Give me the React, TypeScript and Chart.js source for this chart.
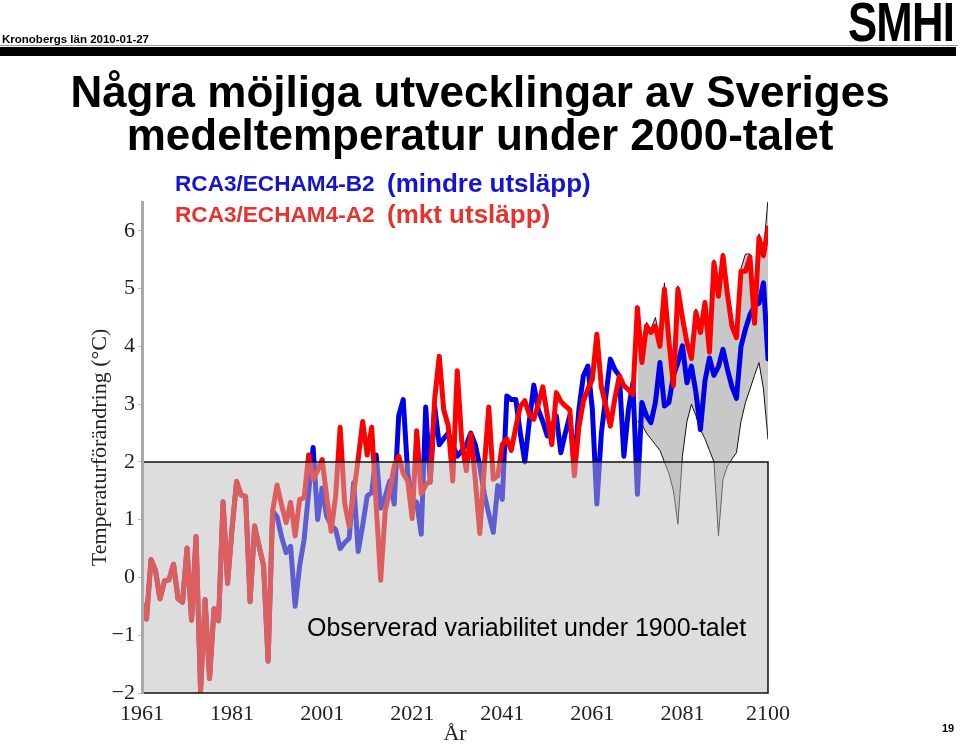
import React, { useEffect, useRef } from 'react';
import { Chart, registerables } from 'chart.js';

Chart.register(...registerables);

// ---- Data -------------------------------------------------------------
const START_YEAR = 1961;
const X_TICKS = [1961, 1981, 2001, 2021, 2041, 2061, 2081, 2100];
const Y_TICKS = [-2, -1, 0, 1, 2, 3, 4, 5, 6];

// Control period 1961-1989 (shared by both runs)
const CONTROL = [
  -0.45, -0.72, 0.31, 0.12, -0.37, -0.06, -0.04, 0.23, -0.37, -0.43,
  0.51, -0.74, 0.71, -1.97, -0.38, -1.75, -0.54, -0.75, 1.31, -0.1,
  0.85, 1.66, 1.43, 1.4, -0.42, 0.89, 0.54, 0.2, -1.45,
];

// RCA3/ECHAM4-A2, 1990-2100
const A2 = [
  1.15, 1.6, 1.25, 0.95, 1.3, 0.72, 1.35, 1.38, 2.12, 1.7,
  1.85, 2.04, 1.41, 0.8, 1.41, 2.6, 1.29, 0.88, 1.45, 2.05,
  2.7, 2.12, 2.6, 1.25, -0.05, 1.15, 1.5, 1.93, 2.1, 1.8,
  1.67, 1.02, 2.54, 1.45, 1.6, 1.68, 3.1, 3.83, 2.9, 2.63,
  1.67, 3.58, 2.36, 1.85, 2.48, 1.7, 0.76, 1.9, 2.95, 1.7,
  1.76, 2.3, 2.4, 2.2, 2.6, 2.96, 3.06, 2.82, 2.74, 3.0,
  3.3, 2.8, 2.3, 3.2, 3.05, 2.97, 2.9, 1.76, 2.6, 3.05,
  3.26, 3.43, 4.21, 3.3, 2.97, 2.62, 3.1, 3.49, 3.32, 3.25,
  3.17, 4.67, 3.72, 4.35, 4.24, 4.35, 4.0, 4.99, 4.1, 3.32,
  4.99, 4.5, 4.07, 3.79, 4.59, 4.24, 4.76, 3.9, 5.45, 4.87,
  5.57, 4.9, 4.35, 4.15, 5.3, 5.3, 5.55, 4.4, 5.88, 5.57,
  6.05,
];

// RCA3/ECHAM4-B2, 1990-2100
const B2 = [
  1.15, 1.05, 0.7, 0.43, 0.54, -0.5, 0.2, 0.66, 1.47, 2.25,
  1.0, 1.55, 1.06, 0.9, 0.83, 0.5, 0.6, 0.68, 1.64, 0.45,
  0.9, 1.41, 1.47, 2.12, 1.2, 1.4, 1.67, 1.27, 2.8, 3.08,
  1.8, 1.35, 1.3, 0.75, 2.95, 1.65, 2.95, 2.3, 2.4, 2.5,
  2.3, 2.1, 2.19, 2.3, 2.5, 2.3, 1.93, 1.45, 1.1, 0.78,
  1.59, 1.35, 3.14, 3.08, 3.08, 2.5, 2.0, 2.7, 3.33, 2.9,
  2.7, 2.45, 2.6, 2.8, 2.16, 2.5, 2.8, 1.93, 2.9, 3.49,
  3.66, 2.91, 1.27, 2.5, 3.14, 3.78, 3.6, 3.49, 2.1, 2.9,
  3.37, 1.44, 3.03, 2.8, 2.68, 3.03, 3.72, 2.97, 3.03, 3.5,
  3.72, 4.01, 3.37, 3.66, 3.2, 2.56, 3.4, 3.8, 3.5, 3.65,
  3.95, 3.6, 3.3, 3.1, 4.0, 4.3, 4.55, 4.7, 4.75, 5.1,
  3.78,
];

// Spread envelope 2071-2100
const ENV_START = 2071;
const ENV_UPPER = [
  4.72, 3.8, 4.42, 4.3, 4.5, 4.1, 5.1, 4.2, 3.4, 5.05,
  4.55, 4.15, 3.85, 4.65, 4.3, 4.8, 4.0, 5.5, 4.95, 5.62,
  5.0, 4.45, 4.25, 5.35, 5.6, 5.6, 4.9, 5.95, 5.65, 6.55,
];
const ENV_LOWER = [
  2.7, 2.65, 2.5, 2.4, 2.3, 2.2, 2.0, 1.8, 1.5, 0.92,
  2.1, 2.7, 3.0, 2.8, 2.56, 2.4, 2.2, 2.0, 0.72, 1.7,
  1.93, 2.05, 2.16, 2.7, 3.03, 3.26, 3.5, 3.72, 3.26, 2.39,
];

// Observed 1900s variability box
const OBS_YEARS = [1961, 2100];
const OBS_RANGE = [-2, 2];

// ---- Helpers ------------------------------------------------------------
const toPoints = (start: number, vals: number[]) =>
  vals.map((v, i) => ({ x: start + i, y: v }));

const SERIF = '"Liberation Serif", "Times New Roman", serif';
const SANS = '"Liberation Sans", Arial, sans-serif';

const obsBoxPlugin = {
  id: 'obsBox',
  afterDatasetsDraw(chart: any) {
    const { ctx, scales } = chart;
    const x = scales.x;
    const y = scales.y;
    const l = x.getPixelForValue(OBS_YEARS[0]);
    const r = x.getPixelForValue(OBS_YEARS[1]);
    const t = y.getPixelForValue(OBS_RANGE[1]);
    const b = y.getPixelForValue(OBS_RANGE[0]);
    ctx.save();
    ctx.fillStyle = 'rgba(188,188,188,0.5)';
    ctx.fillRect(l, t, r - l, b - t);
    ctx.strokeStyle = '#111';
    ctx.lineWidth = 1.5;
    ctx.beginPath();
    ctx.moveTo(l, t);
    ctx.lineTo(r, t);
    ctx.lineTo(r, b);
    ctx.lineTo(l, b);
    ctx.stroke();
    ctx.restore();
  },
};

export default function App() {
  const canvasRef = useRef<HTMLCanvasElement | null>(null);

  useEffect(() => {
    const canvas = canvasRef.current;
    if (!canvas) return;
    const red = toPoints(START_YEAR, [...CONTROL, ...A2]);
    const blue = toPoints(START_YEAR, [...CONTROL, ...B2]);
    const upper = toPoints(ENV_START, ENV_UPPER);
    const lower = toPoints(ENV_START, ENV_LOWER);

    const chart = new Chart(canvas, {
      type: 'line',
      data: {
        datasets: [
          {
            label: 'upper',
            data: upper,
            borderColor: '#111',
            borderWidth: 1,
            pointRadius: 0,
            fill: '+1',
            backgroundColor: '#c8c8c8',
            order: 3,
            tension: 0,
          },
          {
            label: 'lower',
            data: lower,
            borderColor: '#111',
            borderWidth: 1,
            pointRadius: 0,
            fill: false,
            order: 2,
            tension: 0,
          },
          {
            label: 'RCA3/ECHAM4-B2',
            data: blue,
            borderColor: '#0000e6',
            borderWidth: 5,
            pointRadius: 0,
            fill: false,
            order: 1,
            tension: 0,
            borderJoinStyle: 'round',
            borderCapStyle: 'round',
          },
          {
            label: 'RCA3/ECHAM4-A2',
            data: red,
            borderColor: '#ff0000',
            borderWidth: 5,
            pointRadius: 0,
            fill: false,
            order: 0,
            tension: 0,
            borderJoinStyle: 'round',
            borderCapStyle: 'round',
          },
        ],
      },
      options: {
        responsive: false,
        animation: false,
        devicePixelRatio: 1,
        layout: { padding: { left: 0, top: 202, right: 192, bottom: 0 } },
        plugins: {
          legend: { display: false },
          tooltip: { enabled: false },
        },
        scales: {
          x: {
            type: 'linear',
            min: START_YEAR,
            max: 2100,
            afterBuildTicks: (s: any) => {
              s.ticks = X_TICKS.map((v) => ({ value: v }));
            },
            afterFit: (s: any) => {
              s.height = 54;
              s.paddingLeft = 0;
              s.paddingRight = 0;
            },
            grid: { display: false },
            border: { display: false },
            ticks: {
              autoSkip: false,
              maxRotation: 0,
              padding: 0,
              color: '#222',
              font: { family: SERIF, size: 22 },
              callback: (v: any) => String(v),
            },
            title: {
              display: true,
              text: 'År',
              color: '#222',
              font: { family: SERIF, size: 22 },
              padding: { top: 0, bottom: 0 },
            },
          },
          y: {
            type: 'linear',
            min: -2,
            max: 6.5,
            afterBuildTicks: (s: any) => {
              s.ticks = Y_TICKS.map((v) => ({ value: v }));
            },
            afterFit: (s: any) => {
              s.width = 142;
            },
            grid: {
              display: true,
              drawOnChartArea: false,
              drawTicks: true,
              tickLength: 4,
              color: '#bbb',
              z: 1,
            },
            border: { display: true, color: '#aaa', width: 3, z: 2 },
            ticks: {
              padding: 3,
              color: '#222',
              font: { family: SERIF, size: 22 },
              callback: (v: any) => (v < 0 ? '\u2212' + Math.abs(v) : String(v)),
            },
            title: {
              display: true,
              text: 'Temperaturförändring (°C)',
              color: '#222',
              font: { family: SERIF, size: 22 },
              padding: { top: 87, bottom: 0 },
            },
          },
        },
      } as any,
      plugins: [obsBoxPlugin],
    });
    return () => chart.destroy();
  }, []);

  const abs = (s: React.CSSProperties): React.CSSProperties => ({
    position: 'absolute',
    lineHeight: 1,
    whiteSpace: 'nowrap',
    margin: 0,
    ...s,
  });

  return (
    <div
      style={{
        position: 'absolute',
        left: 0,
        top: 0,
        width: 960,
        height: 747,
        background: '#fff',
        overflow: 'hidden',
        fontFamily: SANS,
      }}
    >
      <canvas
        ref={canvasRef}
        width={960}
        height={747}
        style={{ position: 'absolute', left: 0, top: 0, width: 960, height: 747 }}
      />
      {/* header */}
      <div style={abs({ left: 2, top: 34, fontSize: 11.5, fontWeight: 'bold', color: '#000' })}>
        Kronobergs län 2010-01-27
      </div>
      <div
        style={abs({
          left: 848,
          top: -6,
          fontSize: 56,
          fontWeight: 'bold',
          color: '#000',
          transform: 'scaleX(0.78)',
          transformOrigin: 'left top',
          letterSpacing: -1,
        })}
      >
        SMHI
      </div>
      <div style={{ position: 'absolute', left: 0, top: 45, width: 958, height: 1, background: '#999' }} />
      <div style={{ position: 'absolute', left: 0, top: 47, width: 956, height: 9, background: '#000' }} />
      {/* title */}
      <div style={abs({ left: 0, width: 960, top: 70, textAlign: 'center', fontSize: 44, fontWeight: 'bold', color: '#000' })}>
        Några möjliga utvecklingar av Sveriges
      </div>
      <div style={abs({ left: 0, width: 960, top: 113, textAlign: 'center', fontSize: 44, fontWeight: 'bold', color: '#000' })}>
        medeltemperatur under 2000-talet
      </div>
      {/* legend text */}
      <div style={abs({ left: 175, top: 173, fontSize: 22.6, fontWeight: 'bold', color: '#1414d2' })}>RCA3/ECHAM4-B2</div>
      <div style={abs({ left: 387, top: 170, fontSize: 26, fontWeight: 'bold', color: '#1414d2' })}>(mindre utsläpp)</div>
      <div style={abs({ left: 175, top: 204, fontSize: 22.6, fontWeight: 'bold', color: '#e8322d' })}>RCA3/ECHAM4-A2</div>
      <div style={abs({ left: 387, top: 201, fontSize: 26, fontWeight: 'bold', color: '#e8322d' })}>(mkt utsläpp)</div>
      {/* annotation */}
      <div style={abs({ left: 307, top: 615, fontSize: 25, color: '#000' })}>
        Observerad variabilitet under 1900-talet
      </div>
      <div style={abs({ left: 942, top: 723, fontSize: 11, fontWeight: 'bold', color: '#000' })}>19</div>
    </div>
  );
}
